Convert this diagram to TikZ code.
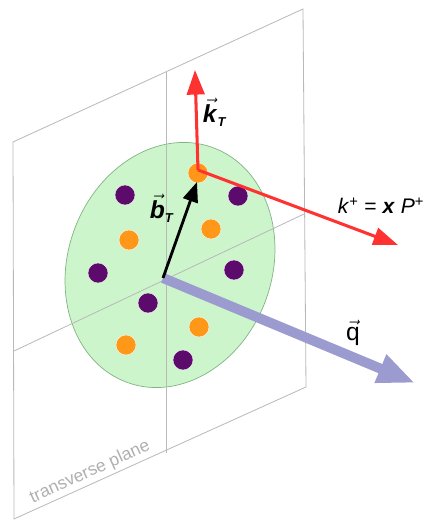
\documentclass[tikz,border=0pt]{standalone}
\usepackage{amsmath}
\usepackage{fontspec}
\setmainfont{Liberation Sans}
\usetikzlibrary{arrows.meta, positioning, calc}
\definecolor{planegray}{RGB}{185,185,185}
\definecolor{discgreen}{RGB}{204,245,204}
\definecolor{discedge}{RGB}{130,180,130}
\definecolor{quarkpurple}{RGB}{92,10,108}
\definecolor{quarkorange}{RGB}{255,152,24}
\definecolor{kred}{RGB}{255,50,50}
\definecolor{qblue}{RGB}{155,155,208}
\newcommand{\subT}{\textbf{\textit{\fontsize{11}{11}\selectfont T}}}

\begin{document}
\begin{tikzpicture}[
    x=0.03cm, y=0.03cm,
    plane/.style={draw=planegray, line width=0.7pt},
    disc/.style={fill=discgreen, draw=discedge, line width=0.6pt},
    purpledot/.style={circle, fill=quarkpurple, draw=white, line width=0.3pt, minimum size=0.6cm, inner sep=0pt},
    orangedot/.style={circle, fill=quarkorange, draw=white, line width=0.3pt, minimum size=0.6cm, inner sep=0pt},
    redarrow/.style={draw=kred, line width=2.6pt, -{Triangle[length=21pt, width=15pt]}},
    barrow/.style={draw=black, line width=2.4pt, -{Triangle[length=17pt, width=13pt]}},
    qarrow/.style={draw=qblue, line width=8.5pt, -{Triangle[length=32pt, width=24pt]}},
    lbl/.style={font=\fontsize{18}{20}\selectfont},
    veclbl/.style={font=\fontsize{21}{22}\selectfont}
]
\useasboundingbox (0,0) rectangle (432,522);

% Plane
\draw [plane] (13,380) -- (303,513) -- (306,135) -- (14,3) -- cycle;

% Disc
\draw [disc] (170,257) ellipse [x radius=102, y radius=125, rotate=-20];
\draw [plane] (166,450) -- (166,69);
\draw [plane] (14,171) -- (304,308);

% Points
\coordinate (O) at (163,244);
\coordinate (R) at (198,352);
\coordinate (kTtip) at (195,452);
\coordinate (kplustip) at (398,277);
\coordinate (btip) at (197,340);
\coordinate (qtip) at (415,139);

% Partons
\node [purpledot] (p1) at (125,327) {};
\node [purpledot] (p2) at (238,326) {};
\node [purpledot] (p3) at (98,249) {};
\node [purpledot] (p4) at (234,252) {};
\node [purpledot] (p5) at (148,219) {};
\node [purpledot] (p6) at (183,162) {};
\node [orangedot] (o1) at (198,349) {};
\node [orangedot] (o2) at (129,282) {};
\node [orangedot] (o3) at (211,293) {};
\node [orangedot] (o4) at (199,195) {};
\node [orangedot] (o5) at (126,177) {};

% Vectors
\draw [qarrow] (O) -- (qtip);
\draw [redarrow] (R) -- (kTtip);
\draw [redarrow] (R) -- (kplustip);
\draw [barrow] (O) -- (btip);

% Labels
\node [veclbl] (kT) at (215,410) {$\vec{\textbf{\textit{k}}}_{\subT}$};
\node [veclbl] (bT) at (162,314) {$\vec{\textbf{\textit{b}}}_{\subT}$};
\node [lbl] (kplus) at (381,316) {\textit{k}\textsuperscript{+} = \textbf{\textit{x}} \textit{P}\textsuperscript{+}};
\node [veclbl] (q) at (353,189) {$\vec{\text{q}}$};
\node [font=\fontsize{15}{17}\selectfont, text=planegray!95!black, rotate=24.5] (tp) at (90,50) {transverse plane};

\end{tikzpicture}
\end{document}
